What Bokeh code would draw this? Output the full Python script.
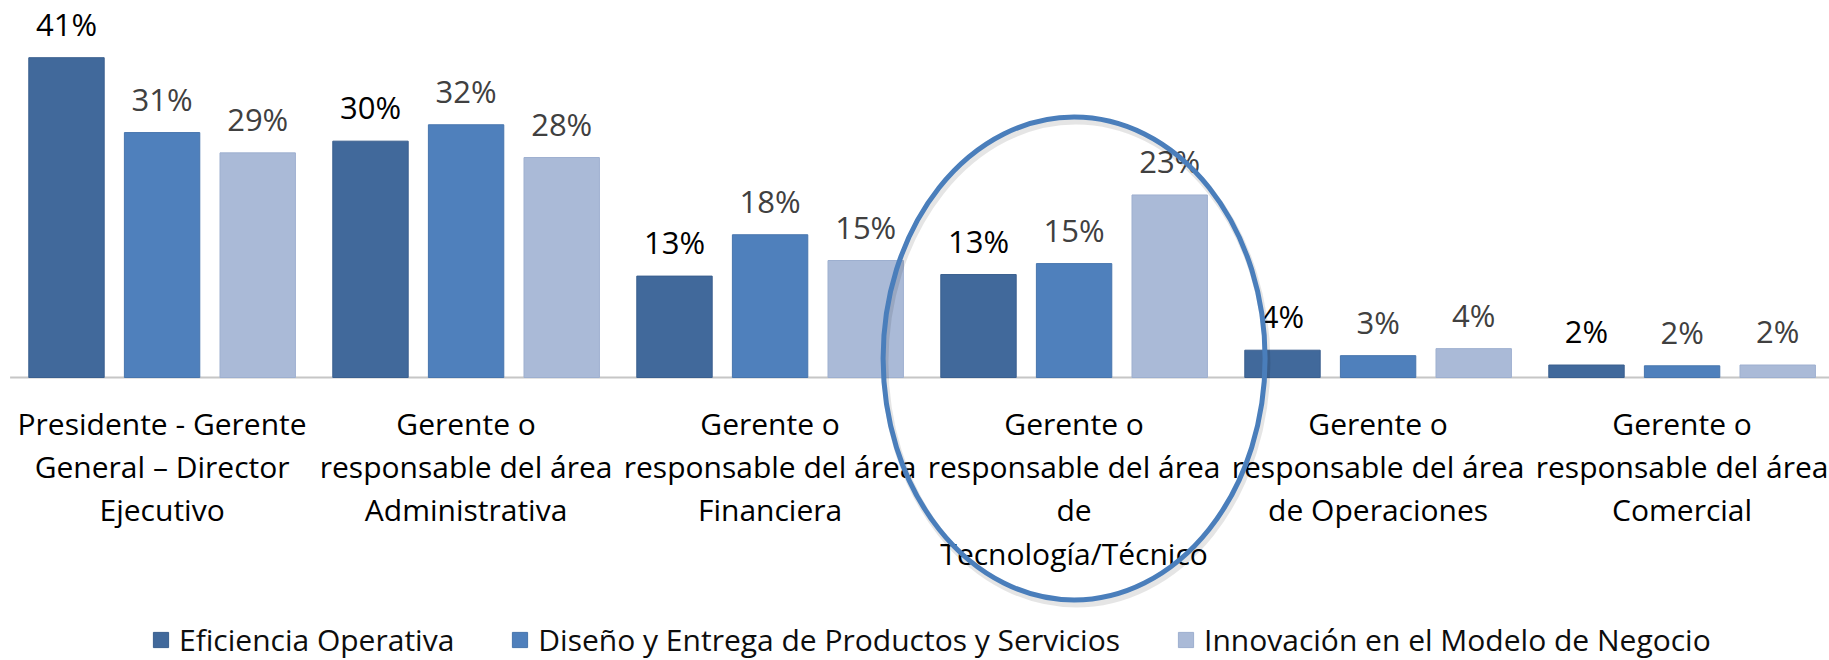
from bokeh.plotting import figure
from bokeh.models import Range1d, Legend, LegendItem, ColumnDataSource
from bokeh.core.properties import value
from bokeh.embed import file_html
from bokeh.resources import INLINE

# ---------------- data ----------------
categories = [
    "Presidente - Gerente\nGeneral – Director\nEjecutivo",
    "Gerente o\nresponsable del área\nAdministrativa",
    "Gerente o\nresponsable del área\nFinanciera",
    "Gerente o\nresponsable del área\nde\nTecnología/Técnico",
    "Gerente o\nresponsable del área\nde Operaciones",
    "Gerente o\nresponsable del área\nComercial",
]
series_names = [
    "Eficiencia Operativa",
    "Diseño y Entrega de Productos y Servicios",
    "Innovación en el Modelo de Negocio",
]
eficiencia = [41.0, 30.3, 13.0, 13.2, 3.5, 1.6]
diseno = [31.4, 32.4, 18.3, 14.6, 2.8, 1.5]
innovacion = [28.8, 28.2, 15.0, 23.4, 3.7, 1.6]
highlight = "Gerente o\nresponsable del área\nde\nTecnología/Técnico"

# ---------------- styling ----------------
FONT = value("Open Sans")
FS = "30px"
FS_LAB = "31px"
PX = 7.8                      # pixels per percentage point
W, H = 1829, 660
BASE = 377                    # pixel row of the zero line
GROUP = 304.0                 # pixels per category
fills = ["#41699B", "#4F80BC", "#AABAD7"]
lines = ["#3A5F8E", "#4775AD", "#9DAFCF"]
label_colors = ["#000000", "#404040", "#404040"]
offsets = [-0.3145, 0.0, 0.3145]
bar_w = 0.248
x0 = -161.6 / GROUP

p = figure(width=W, height=H,
           x_range=Range1d(x0, x0 + W / GROUP),
           y_range=Range1d(-(H - BASE) / PX, BASE / PX),
           x_axis_type=None, y_axis_type=None,
           output_backend="svg", toolbar_location=None,
           min_border=0, outline_line_color=None,
           background_fill_color="white", border_fill_color="white")

idx = list(range(len(categories)))

# baseline
p.segment(x0=[-0.5], y0=[0], x1=[len(categories) - 0.5], y1=[0],
          line_color="#C6C6C6", line_width=2)

renderers = []
for k, vals in enumerate([eficiencia, diseno, innovacion]):
    src = ColumnDataSource(dict(
        x=[i + offsets[k] for i in idx],
        top=vals,
        label=[f"{int(v + 0.5)}%" for v in vals],
        ly=[v + 34 / PX for v in vals],
    ))
    r = p.vbar(x="x", top="top", bottom=0, width=bar_w, source=src,
               fill_color=fills[k], line_color=lines[k], line_width=1)
    renderers.append(r)
    p.text(x="x", y="ly", text="label", source=src,
           text_align="center", text_baseline="alphabetic",
           text_font=FONT, text_font_size=FS_LAB, text_color=label_colors[k])

# category labels
p.text(x=idx, y=[-25 / PX] * len(idx), text=categories,
       text_align="center", text_baseline="top", text_line_height=1.06,
       text_font=FONT, text_font_size=FS, text_color="#000000")

# highlight ellipse around the technology group
hx = categories.index(highlight)
p.ellipse(x=[hx + 0.006], y=[19 / PX - 4 / PX], width=382, height=483,
          width_units="screen", height_units="screen",
          fill_color=None, line_color="#000000", line_alpha=0.10, line_width=7)
p.ellipse(x=[hx], y=[19 / PX], width=382, height=483,
          width_units="screen", height_units="screen",
          fill_color=None, line_color="#4A7EBB", line_width=5)

legend = Legend(
    items=[LegendItem(label=n, renderers=[r]) for n, r in zip(series_names, renderers)],
    orientation="horizontal", location=(151, 0),
    glyph_width=19, glyph_height=19, label_standoff=9, spacing=56,
    padding=0, margin=0, border_line_color=None, background_fill_alpha=0,
    label_text_font="Open Sans", label_text_font_size=FS,
    label_text_color="#0d0d0d",
)
p.add_layout(legend)

open("out.html", "w").write(file_html(p, INLINE))
